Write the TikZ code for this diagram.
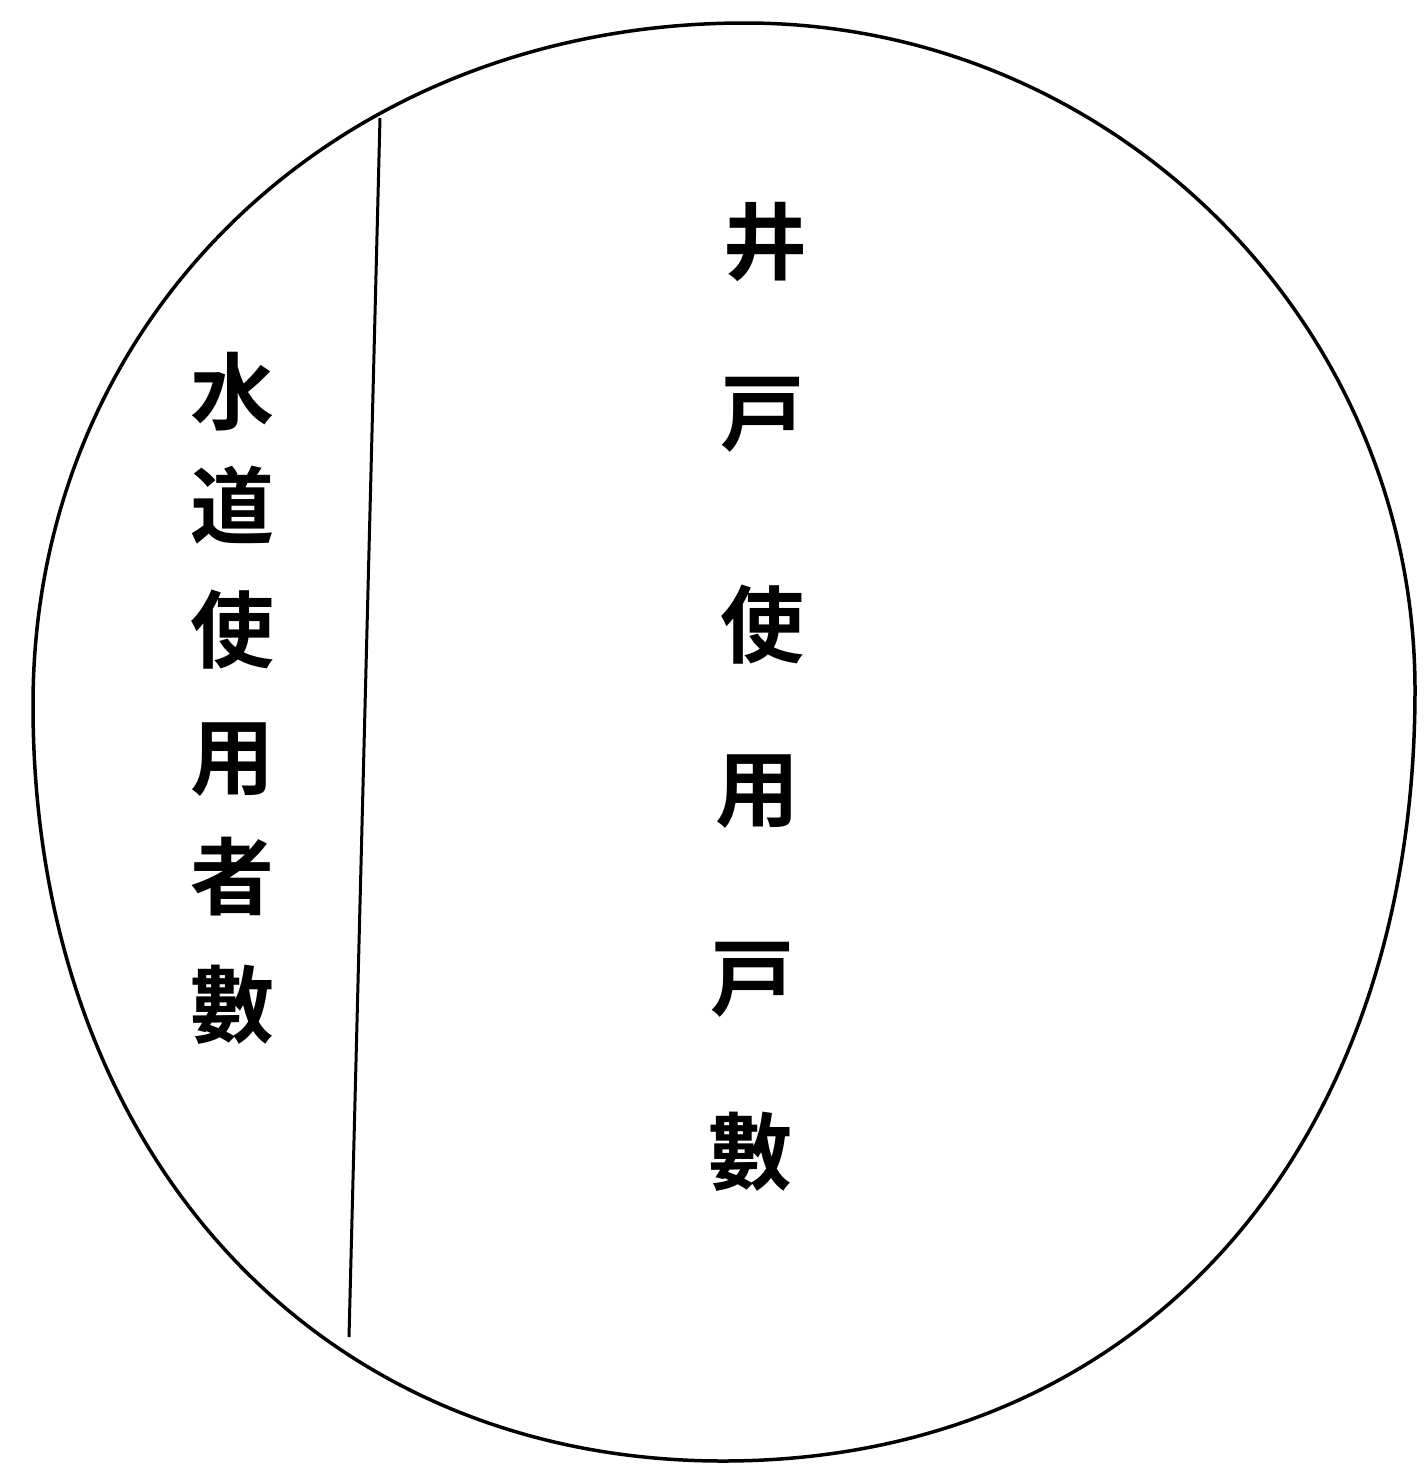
\documentclass[tikz,border=0pt]{standalone}
\usepackage{fontspec}
\newfontfamily\cjk{Noto Sans CJK JP}[BoldFont={* Bold}]
\begin{document}
\begin{tikzpicture}[x=1pt,y=-1pt,
  outline/.style={line width=3.5pt,black,line join=round},
  glyph/.style={font=\cjk\bfseries\fontsize{84}{84}\selectfont,inner sep=0pt,anchor=center}]
\useasboundingbox (0,0) rectangle (1427,1470);
\coordinate (T) at (745,23);
\coordinate (R) at (1415,690);
\coordinate (B) at (723,1461);
\coordinate (L) at (33,705);
\draw[outline] (T) .. controls (1113.5,23) and (1415,323) .. (R)
  .. controls (1415,1152.6) and (1138,1461) .. (B)
  .. controls (316,1461) and (33,1151) .. (L)
  .. controls (33,316.3) and (339,23) .. (T) -- cycle;
\coordinate (ltop) at (380,118);
\coordinate (lbot) at (349,1337);
\draw[line width=3pt] (ltop) -- (lbot);
\node[glyph] (a1) at (232,392) {水};
\node[glyph] (a2) at (232,505) {道};
\node[glyph] (a3) at (232,630) {使};
\node[glyph] (a4) at (232,760) {用};
\node[glyph] (a5) at (232,877) {者};
\node[glyph] (a6) at (232,1005) {數};
\node[glyph] (b1) at (765,242) {井};
\node[glyph] (b2) at (762,415) {戸};
\node[glyph] (b3) at (762,625) {使};
\node[glyph] (b4) at (757,792) {用};
\node[glyph] (b5) at (752,980) {戸};
\node[glyph] (b6) at (750,1152) {數};
\end{tikzpicture}
\end{document}
